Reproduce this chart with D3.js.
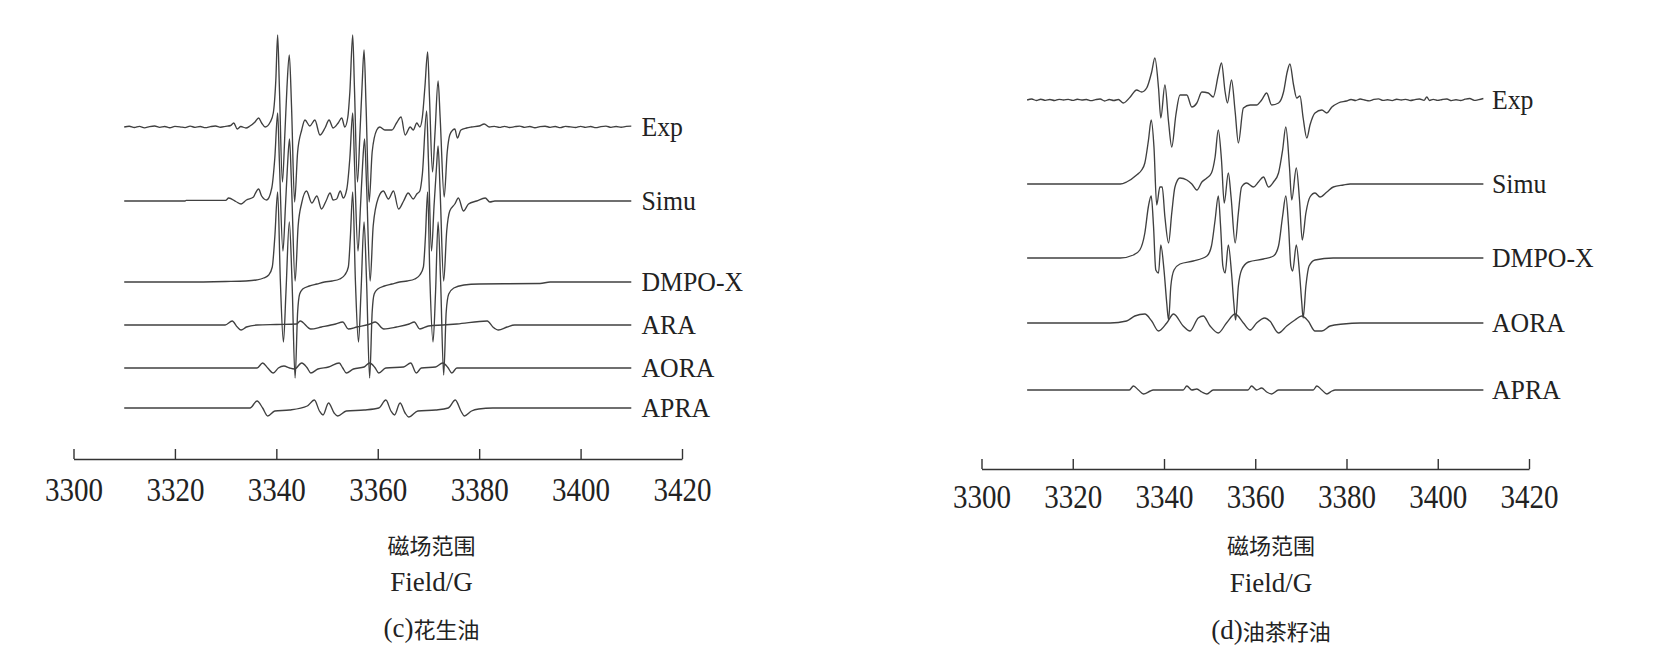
<!DOCTYPE html>
<html><head><meta charset="utf-8">
<script src="https://cdn.jsdelivr.net/npm/d3@7/dist/d3.min.js"></script>
<style>body{margin:0;background:#fff}svg{display:block}</style>
</head><body>
<svg id="chart" width="1671" height="664"></svg>
<script>
// ---------- data ----------
const fieldTicks = [3300, 3320, 3340, 3360, 3380, 3400, 3420];
const fieldDomain = [3300, 3420];

const leftNames = ["Exp", "Simu", "DMPO-X", "ARA", "AORA", "APRA"];
const leftOffsets = [332, 258, 177, 134, 91, 51];
const leftTitle = ["磁场范围", "Field/G", "(c)花生油"];

const rightNames = ["Exp", "Simu", "DMPO-X", "AORA", "APRA"];
const rightOffsets = [369, 285, 211, 146, 79];
const rightTitle = ["磁场范围", "Field/G", "(d)油茶籽油"];

// [field (G), intensity (a.u.)]
const leftExp = [[3310,0],[3311,0.8],[3312,-0.5],[3313,0.6],[3314,-0.8],[3315,0.4],[3316,1],[3317,-0.4],[3318,0.5],[3319,-0.7],[3320,0.6],[3321,0.2],[3322,-0.6],[3323,0.8],[3324,-0.3],[3325,0.5],[3326,-0.6],[3327,0.4],[3328,1],[3329,-0.2],[3330,0.6],[3331,1.5],[3331.6,4],[3332.3,-2],[3333,0.5],[3334,-1],[3334.8,1],[3335.8,5],[3336.5,9],[3337.1,4],[3337.8,0],[3338.8,5],[3339.4,14],[3339.9,47],[3340.26,92],[3340.6,40],[3341.2,-55],[3341.7,-5],[3342.1,40],[3342.56,72],[3343,20],[3343.6,-75],[3344.2,-25],[3345,-3],[3345.65,7],[3346.6,1],[3347.6,7],[3348.6,-8],[3349.6,-1],[3350.4,7],[3351.2,-1],[3352.2,4],[3352.9,9],[3353.5,0],[3354.1,10],[3354.5,35],[3355.06,92],[3355.4,40],[3356,-55],[3356.5,-5],[3356.9,40],[3357.3,77],[3357.7,20],[3358.3,-75],[3358.9,-25],[3359.8,-3],[3360.4,0],[3361.4,-3],[3362.8,-3],[3363.7,4],[3364.6,10],[3365.4,-8],[3366.4,0],[3367,-3],[3367.7,4],[3368.3,0],[3368.8,10],[3369.3,40],[3369.84,75],[3370.2,30],[3370.8,-45],[3371.3,-5],[3371.9,46],[3372.3,10],[3373.1,-70],[3373.7,-25],[3374.2,-8],[3374.8,-3],[3375.2,-2],[3375.7,-11],[3376.4,-3],[3377.5,-1],[3378.5,0],[3380,1],[3381,3],[3382,0],[3383,0.6],[3384,-0.4],[3385,0.7],[3386,-0.5],[3387,0.3],[3388,0.9],[3389,-0.4],[3390,0.5],[3391,-0.7],[3392,0.4],[3393,0.8],[3394,-0.3],[3395,0.5],[3396,-0.6],[3397,0.6],[3398,0.1],[3399,-0.5],[3400,0.7],[3401,-0.3],[3402,0.5],[3403,-0.6],[3404,0.4],[3405,0.9],[3406,-0.4],[3407,0.5],[3408,-0.2],[3409,0.6],[3410,0.8]];

const leftSimu = [[3310,0],[3322,0],[3322.2,0.6],[3330,0.6],[3330.6,3],[3332,-0.5],[3333.05,-3],[3334.1,1],[3335.5,4],[3335.8,7],[3336.5,12],[3337.1,5],[3338.1,1],[3339.1,13],[3339.7,43],[3340.26,88],[3340.6,40],[3341.3,-50],[3341.8,-5],[3342.2,35],[3342.6,62],[3343,15],[3343.7,-80],[3344.3,-25],[3345,-2],[3345.95,10],[3347,-2],[3348,5],[3348.9,-8],[3349.8,0],[3350.6,8],[3351.2,1],[3351.9,2],[3352.6,10],[3353.2,3],[3353.9,12],[3354.5,43],[3355.06,88],[3355.4,40],[3356.1,-50],[3356.6,-5],[3357,35],[3357.4,62],[3357.8,15],[3358.5,-80],[3359.1,-25],[3360.1,3],[3361.1,10],[3362.1,2],[3363.1,10],[3364.1,-8],[3365.1,0],[3366,8],[3367,2],[3367.7,7],[3368.3,10],[3368.8,27],[3369.64,90],[3370,40],[3370.6,-50],[3371.1,-5],[3371.6,35],[3371.9,55],[3372.3,10],[3373,-80],[3373.6,-30],[3374.2,-10],[3375.2,-3],[3375.9,3],[3376.9,-10],[3377.9,-3],[3379.5,0],[3381.2,3],[3382.1,-1],[3383.1,0],[3410,0]];

const leftDmpo = [[3310,0],[3322,0],[3330,0.5],[3334,1],[3336,2],[3337.5,4],[3338.5,7],[3339.2,15],[3339.7,45],[3340.26,90],[3340.8,0],[3341.4,-60],[3341.9,-10],[3342.56,60],[3343.1,0],[3343.7,-96],[3344.2,-30],[3344.6,-12],[3345.2,-7],[3346.5,-4],[3348,-2],[3349.5,0],[3351,1],[3352.5,3],[3353.5,7],[3354.2,15],[3354.6,45],[3355.06,90],[3355.6,0],[3356.2,-60],[3356.7,-10],[3357.3,60],[3357.8,0],[3358.4,-96],[3358.9,-30],[3359.3,-12],[3360,-7],[3361.3,-4],[3362.8,-2],[3364.3,0],[3365.8,1],[3367.3,3],[3368.3,7],[3369,15],[3369.4,45],[3369.84,90],[3370.3,0],[3370.9,-60],[3371.4,-10],[3371.9,60],[3372.4,0],[3373,-93],[3373.5,-30],[3374,-12],[3375,-6],[3377,-3],[3380,-2],[3392,-1.5],[3394,0],[3410,0]];

const leftAra = [[3310,0],[3329.9,0],[3331.3,4],[3332.3,-2],[3333.05,-5],[3334.1,-2],[3336.2,0],[3340,0.5],[3344,1],[3344.7,4],[3346.8,-4],[3348.9,-2],[3351.7,1],[3353.1,3],[3354.2,-4],[3355.9,-2],[3358.5,1],[3359.5,3],[3361.2,-4],[3363.7,-2],[3366.2,1],[3367.2,3],[3368.3,-4],[3370,-1],[3372.8,0],[3375.6,1],[3381.6,4],[3382.7,-2],[3383.8,-5],[3385.5,-2],[3387,0],[3410,0]];

const leftAora = [[3310,0],[3336.2,0],[3337.3,5],[3338.3,0],[3339.4,-5],[3340.4,0],[3341.5,2],[3342.6,0],[3343.6,-1],[3345,5],[3346.1,0],[3346.8,-5],[3348.2,-1],[3350.3,1],[3352.4,5],[3353.1,0],[3353.8,-5],[3355.2,-1],[3357.3,1],[3358.4,5],[3359.5,0],[3360.2,-5],[3361.6,0],[3365.1,1],[3366.5,5],[3367.6,-5],[3368.6,0],[3371.4,1],[3372.8,5],[3373.9,0],[3374.6,-5],[3375.6,0],[3410,0]];

const leftApra = [[3310,0],[3334.8,0],[3336.2,7],[3337.3,0],[3338.3,-8],[3339.7,-3],[3342.6,-2],[3346.1,2],[3347.5,8],[3348.5,-3],[3349.2,-7],[3350.3,5],[3351.4,-5],[3352.1,-8],[3353.8,-3],[3357.3,-2],[3360.2,0],[3361.6,8],[3362.6,-3],[3363.3,-7],[3364.4,5],[3365.4,-5],[3366.1,-9],[3367.9,-3],[3371.4,-2],[3373.9,0],[3375.3,8],[3376.4,-3],[3377.1,-8],[3378.5,-3],[3379.9,-1],[3382.7,0],[3410,0]];

const rightExp = [[3310,0],[3311,1],[3312,-0.5],[3313,0.8],[3314,-0.3],[3315,0.5],[3316,-0.5],[3317,0.7],[3318,0],[3319,0.6],[3320,-0.4],[3321,0.8],[3322,0],[3323,0.5],[3324,-0.6],[3325,0.4],[3326,1],[3327,-1],[3328,0.5],[3329,-0.5],[3330,0.5],[3331.1,-3],[3332.6,3],[3334,10],[3335.1,8],[3336.2,12],[3337.3,28],[3338,42],[3338.8,12],[3339.3,-18],[3340.2,15],[3341,-22],[3341.7,-47],[3342.6,-15],[3343.5,5],[3345,5],[3346.1,-7],[3347.2,-3],[3348.3,8],[3349.7,7],[3350.8,3],[3351.9,25],[3352.6,37],[3353.4,8],[3353.9,-3],[3354.8,20],[3355.6,-12],[3356.3,-43],[3357.4,-8],[3358.9,-5],[3360.3,-5],[3361.4,0],[3362.5,7],[3363.6,-5],[3365.1,-3],[3366.2,8],[3367,28],[3367.6,36],[3368.4,15],[3369.1,2],[3369.8,4],[3370.5,-18],[3371.3,-38],[3372,-25],[3373.1,-13],[3374.6,-10],[3375.7,-13],[3376.8,-7],[3378.2,-3],[3380,-1],[3381,0.5],[3382,-0.5],[3383,1],[3384,0],[3385,-0.8],[3386,0.6],[3387,1.2],[3388,-0.4],[3389,0.3],[3390,-0.6],[3391,0.8],[3392,0],[3393,0.7],[3394,-0.5],[3395,0.4],[3396,1],[3397,-0.3],[3397.6,3],[3398.2,-0.5],[3399,0.6],[3400,-0.4],[3401,0.5],[3402,1],[3403,-0.6],[3404,0.3],[3405,-0.5],[3406,0.8],[3407,1.5],[3408,-0.3],[3409,0.4],[3410,1.5]];

const rightSimu = [[3310,0],[3330.4,0],[3331.8,2],[3334,9],[3335.1,14],[3335.8,21],[3336.6,44],[3337.2,64],[3337.8,37],[3338.4,-21],[3339.1,-3],[3339.6,-3],[3340.2,-33],[3341,-59],[3341.7,-29],[3342.4,-3],[3343.5,6],[3345,4],[3346.1,0],[3347.2,-6],[3348.3,2],[3349.4,6],[3350.4,11],[3351.2,27],[3351.9,54],[3352.6,24],[3353.2,-19],[3354.1,11],[3354.7,-13],[3355.6,-59],[3356.3,-29],[3357,-3],[3358.1,1],[3359.6,-3],[3360.7,2],[3361.8,7],[3362.9,-3],[3364,2],[3365.1,11],[3366,34],[3366.7,57],[3367.5,17],[3368,-16],[3369,16],[3369.7,-16],[3370.3,-56],[3371.1,-29],[3372,-13],[3373.1,-9],[3374.2,-13],[3375.7,-8],[3377.1,-3],[3379.3,-1],[3380.8,0],[3410,0]];

const rightDmpo = [[3310,0],[3330.4,0],[3333.3,3],[3334.7,8],[3335.8,25],[3336.6,52],[3337.2,62],[3337.7,32],[3338.2,-12],[3338.8,-15],[3339.3,13],[3340,-12],[3340.6,-45],[3341,-62],[3341.5,-28],[3342.2,-12],[3343.5,-6],[3346.4,-3],[3349.4,2],[3350.4,12],[3351.2,38],[3351.9,62],[3352.4,32],[3352.9,-8],[3353.4,-15],[3354.1,13],[3354.8,-15],[3355.3,-45],[3355.7,-62],[3356.3,-28],[3357,-12],[3358.5,-4],[3361.8,-1],[3364,2],[3365.1,12],[3366,42],[3366.7,62],[3367.3,32],[3367.8,-8],[3368.2,-13],[3369,13],[3369.7,-15],[3370.2,-45],[3370.5,-60],[3371.1,-28],[3371.8,-8],[3373.1,-2],[3377.1,0],[3410,0]];

const rightAora = [[3310,0],[3328.2,0],[3331.8,2],[3333.6,7],[3335.8,9],[3337.3,2],[3338.8,-8],[3340.6,0],[3342.1,9],[3344.2,-3],[3345.7,-8],[3347.5,5],[3348.6,7],[3350.1,-3],[3351.9,-10],[3353.7,0],[3355.6,9],[3357.4,0],[3358.9,-7],[3360.3,0],[3362.1,5],[3363.2,2],[3365.1,-10],[3366.9,-3],[3368.7,3],[3370.2,7],[3371.6,2],[3373.1,-8],[3374.6,-8],[3376.4,-3],[3379.3,-1],[3383,0],[3410,0]];

const rightApra = [[3310,0],[3332.4,0],[3333.3,4],[3334.4,0],[3335.5,-4],[3337,-1],[3337.6,0],[3344.2,0],[3345,4],[3346.1,0],[3347.2,1],[3348.3,-2],[3349.4,-4],[3350.8,0],[3358.4,0],[3359.2,4],[3360.3,0],[3361.4,2],[3362.5,-2],[3363.6,-4],[3365.1,0],[3372.7,0],[3373.5,4],[3374.6,0],[3375.7,-4],[3376.8,-1],[3377.5,0],[3410,0]];

const leftSeries = [leftExp, leftSimu, leftDmpo, leftAra, leftAora, leftApra];
const rightSeries = [rightExp, rightSimu, rightDmpo, rightAora, rightApra];

// ---------- drawing ----------
const svg = d3.select("#chart");
const serif = "'Liberation Serif','Times New Roman',serif";
const cjk = "'Noto Sans CJK SC',sans-serif";

function panel(cfg, names, offsets, series, title) {
  const x = d3.scaleLinear().domain(fieldDomain).range([cfg.x0, cfg.x1]);
  const y = d3.scaleLinear().domain([0, 400]).range([cfg.axisY, cfg.axisY - 400]);
  const g = svg.append("g");

  const axis = d3.axisBottom(x).tickValues(fieldTicks).tickFormat(d3.format("d"))
    .tickSize(-10).tickSizeOuter(0).tickPadding(0);
  const ax = g.append("g").attr("transform", `translate(0,${cfg.axisY})`).call(axis);
  ax.select(".domain").attr("stroke", "#333").attr("stroke-width", 1.6);
  ax.selectAll(".tick line").attr("stroke", "#333").attr("stroke-width", 1.4);
  ax.selectAll(".tick text")
    .attr("y", null).attr("dy", null)
    .attr("transform", `translate(0,${cfg.tickLabelDy}) scale(0.88,1)`)
    .attr("dominant-baseline", "central")
    .attr("font-family", serif).attr("font-size", 33).attr("fill", "#222");

  series.forEach((s, i) => {
    const line = d3.line()
      .x(d => x(d[0]))
      .y(d => y(d[1] + offsets[i]))
      .curve(d3.curveMonotoneX);
    g.append("path").datum(s).attr("d", line)
      .attr("fill", "none").attr("stroke", "#404040").attr("stroke-width", 1.35)
      .attr("stroke-linejoin", "round");
    g.append("text")
      .attr("transform", `translate(${cfg.labelX},${y(offsets[i])}) scale(0.92,1)`)
      .attr("dominant-baseline", "central")
      .attr("font-family", serif).attr("font-size", 28).attr("fill", "#222")
      .text(names[i]);
  });

  const fonts = [cjk, serif, cjk];
  const sizes = [22, 27, 22];
  title.forEach((t, i) => {
    const txt = g.append("text").attr("x", cfg.titleX).attr("y", cfg.titleY[i])
      .attr("text-anchor", "middle").attr("dominant-baseline", "central")
      .attr("font-family", fonts[i]).attr("font-size", sizes[i]).attr("fill", "#222");
    if (i === 2) {
      const m = t.match(/^(\([a-z]\))(.*)$/);
      txt.append("tspan").attr("font-family", serif).attr("font-size", 27).text(m[1]);
      txt.append("tspan").text(m[2]);
    } else txt.text(t);
  });
}

panel({x0: 73.5, x1: 682, axisY: 459, tickLabelDy: 31, labelX: 641.5,
       titleX: 431.6, titleY: [544, 582, 628]},
      leftNames, leftOffsets, leftSeries, leftTitle);
panel({x0: 981.5, x1: 1529, axisY: 469, tickLabelDy: 28, labelX: 1492,
       titleX: 1271, titleY: [544, 583, 630]},
      rightNames, rightOffsets, rightSeries, rightTitle);
</script>
</body></html>
